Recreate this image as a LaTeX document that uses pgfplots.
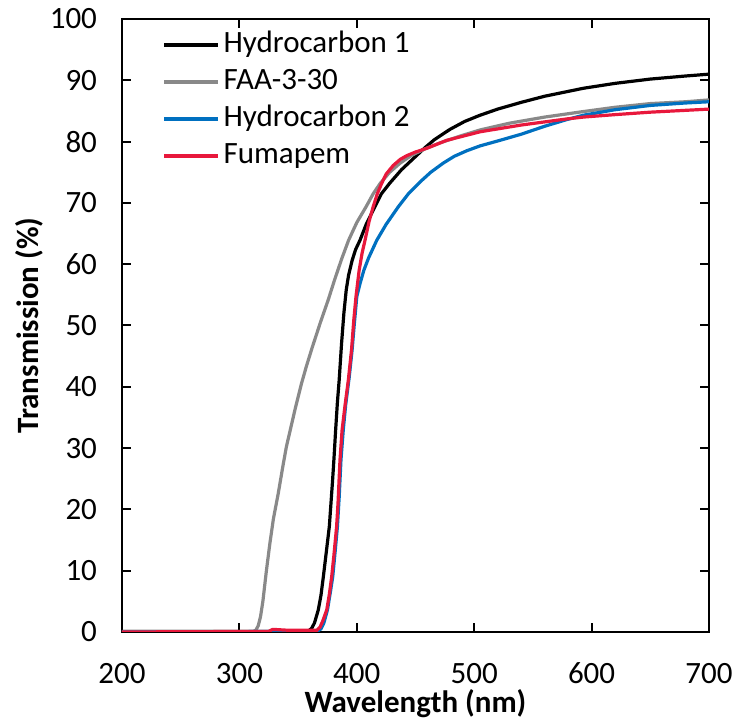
\documentclass[border=0pt]{standalone}
\usepackage{pgfplots}
\pgfplotsset{compat=1.18}
\usepackage{fontspec}
\setmainfont{Carlito}
\definecolor{cgray}{RGB}{137,137,137}
\definecolor{cblue}{RGB}{0,112,192}
\definecolor{cred}{RGB}{232,24,60}
\newcommand{\fs}{\fontsize{15.5}{18}\selectfont}
\begin{document}
\begin{tikzpicture}
\useasboundingbox (-61pt,-43pt) rectangle (306.5pt,316pt);
\begin{axis}[
  scale only axis, width=293.5pt, height=306.5pt,
  xmin=200, xmax=700, ymin=0, ymax=100,
  xtick={200,300,...,700}, ytick={0,10,...,100},
  tick align=inside, major tick length=4.5pt,
  axis line style={line width=1pt, black},
  every tick/.style={black, line width=1pt},
  /pgf/number format/assume math mode=true,
  tick label style={font=\fs},
  xticklabel style={yshift=-12pt},
  yticklabel style={xshift=-9pt},
  xlabel={\textbf{Wavelength (nm)}},
  ylabel={\textbf{Transmission (\%)}},
  label style={font=\fs},
  xlabel style={at={(axis description cs:0.5,0)}, anchor=north, yshift=-25pt},
  ylabel style={at={(axis description cs:0,0.5)}, anchor=south, xshift=0pt, yshift=36pt},
  legend style={at={(axis description cs:0.058,0.995)}, anchor=north west, draw=none, fill=none, font=\fs,
    row sep=0pt, nodes={inner sep=2pt, text height=11pt, text depth=3.5pt}},
  legend cell align=left,
  legend image code/.code={\draw[#1, line width=1.6pt] (0pt,0pt) -- (27pt,0pt);},
]
\addplot[black, line width=1.6pt] coordinates {
(200,0.1) (300,0.1) (355,0.1) (359,0.2) (361.6,0.6) (364,1.5) (367.2,3.6) (369.5,6) (371.5,9)
(374,13) (376.6,17.2) (378,21) (379.4,24.8) (380.5,28.1) (382,33) (383.5,37.5) (385,41.1)
(387,47) (389,52) (391,55.8) (393,58.2) (396,60.6) (399,62.4) (402.7,63.9) (408,66.5) (415.5,69.4)
(421,71.5) (428,73.2) (438,75.4) (448,77.2) (458,79) (466,80.3) (479.4,82) (492,83.3)
(505,84.3) (520,85.3) (540,86.4) (560,87.4) (593,88.7) (620,89.5) (650,90.2) (680,90.7) (700,91)};
\addlegendentry{Hydrocarbon 1}
\addplot[cgray, line width=1.6pt] coordinates {
(200,0.1) (300,0.1) (312,0.1) (314,0.3) (316,1) (318,2.5) (320,5) (323,10) (326,14.5) (329,18.5)
(333,22.5) (337,27) (340,30.2) (344,33.5) (348,36.8) (353,40.6) (357,43.3) (362,46.4) (369,50.5)
(375.7,54.2) (381,57.4) (387,60.8) (393,63.9) (400,66.8) (408,69.4) (414,71.5) (420,73.2)
(428,75) (437,76.5) (447,77.8) (458,78.8) (471,79.8) (488,80.9) (505,81.9) (530,83)
(560,84) (593,84.9) (620,85.6) (650,86.2) (680,86.5) (700,86.8)};
\addlegendentry{FAA-3-30}
\addplot[cblue, line width=1.6pt] coordinates {
(200,0) (366,0.1) (369.5,0.5) (372,1.5) (375,3.6) (377.5,6.5) (379.5,9) (381.5,13)
(383.5,17.2) (385,22) (386.5,28) (388.5,33) (390.5,37) (393.5,41.5) (396,46) (398,50.5)
(400,54.7) (403,57) (406,59) (410,61) (417,63.9) (425,66.5) (435.5,69.4) (444,71.5)
(453.8,73.4) (463,75) (473.7,76.5) (483,77.6) (493.6,78.5) (505,79.3) (520,80.1)
(540,81.2) (560,82.5) (579,83.6) (593,84.3) (620,85.2) (650,85.9) (680,86.3) (700,86.5)};
\addlegendentry{Hydrocarbon 2}
\addplot[cred, line width=1.6pt] coordinates {
(200,0) (320,0.1) (325,0.1) (328,0.4) (331,0.4) (340,0.3) (360,0.3) (366,0.3) (368.7,0.8)
(371,1.8) (374.4,3.6) (376.5,6) (378.6,9) (380.5,12.5) (382.8,17.2) (384,21) (385.7,28.1)
(387.5,33) (390,37) (392.8,41.1) (395.5,46) (397.5,51) (399.3,54.7) (402,59) (404.5,61.8)
(407,63.9) (410.5,67) (414,69.4) (417.5,71.5) (421,73.1) (425,74.7) (431,76.1) (437,77.1)
(442.5,77.7) (450,78.3) (459.5,78.9)
(476.5,80.2) (505,81.6) (540,82.7) (579,83.7) (593,84) (620,84.4) (650,84.8) (700,85.3)};
\addlegendentry{Fumapem}
\end{axis}
\end{tikzpicture}
\end{document}
